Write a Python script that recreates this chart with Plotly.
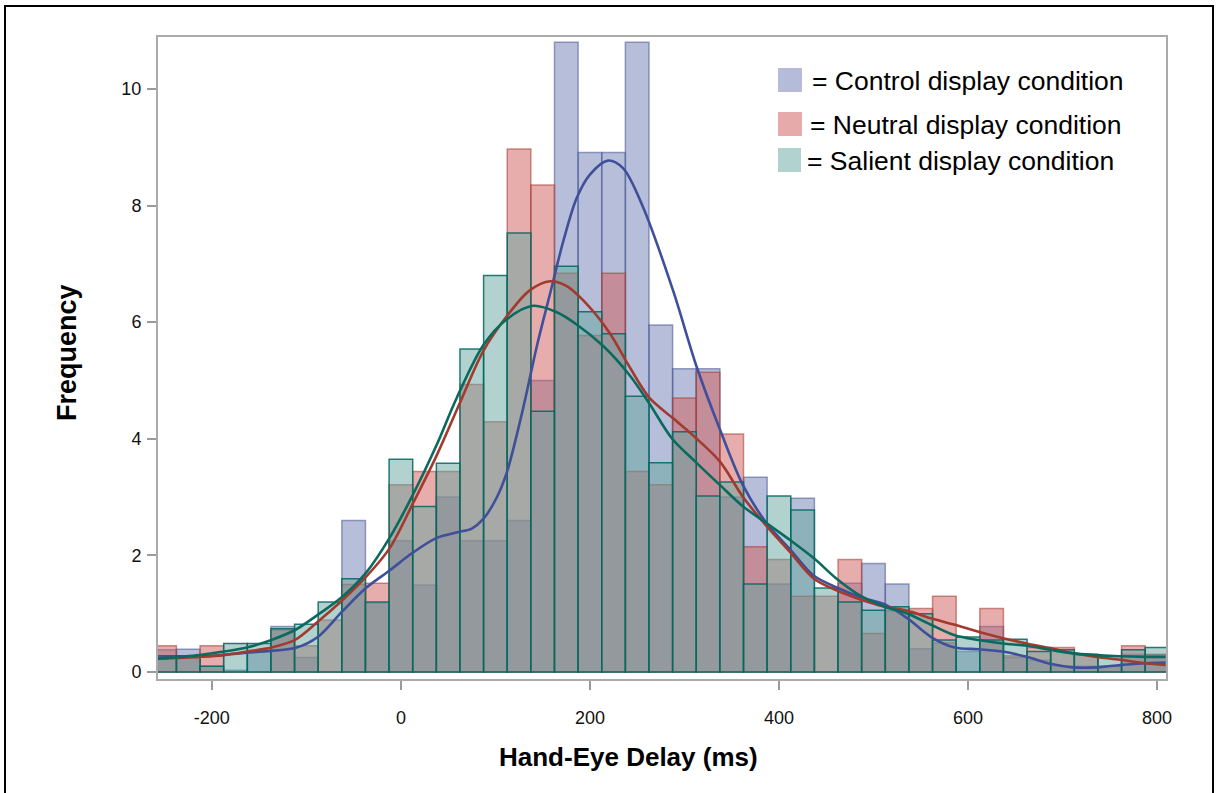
import plotly.graph_objects as go

# ---------------- data ----------------
bin_centers = [-250, -225, -200, -175, -150, -125, -100, -75, -50, -25,
               0, 25, 50, 75, 100, 125, 150, 175, 200, 225,
               250, 275, 300, 325, 350, 375, 400, 425, 450, 475,
               500, 525, 550, 575, 600, 625, 650, 675, 700, 725,
               750, 775, 800]

control_freq = [0.38, 0.39, 0.10, 0.03, 0.35, 0.78, 0.25, 0.0, 2.6, 1.18,
                2.25, 1.49, 3.0, 2.25, 2.25, 2.6, 5.0, 10.8, 8.91, 8.91,
                10.8, 5.95, 5.2, 5.2, 3.0, 3.34, 1.51, 2.98, 0.0, 1.52,
                1.86, 1.51, 0.4, 0.5, 0.35, 0.78, 0.25, 0.2, 0.1, 0.1,
                0.1, 0.3, 0.3]

neutral_freq = [0.45, 0.28, 0.45, 0.0, 0.0, 0.72, 0.45, 0.89, 1.5, 1.52,
                3.21, 3.44, 3.44, 4.93, 4.29, 8.97, 8.35, 6.84, 5.77, 6.84,
                3.44, 3.21, 4.7, 5.14, 4.08, 2.15, 1.93, 1.3, 1.3, 1.93,
                0.66, 1.05, 1.09, 1.3, 0.0, 1.09, 0.28, 0.42, 0.42, 0.3,
                0.1, 0.45, 0.3]

salient_freq = [0.28, 0.28, 0.10, 0.49, 0.49, 0.74, 0.82, 1.2, 1.6, 1.2,
                3.65, 2.84, 3.58, 5.54, 6.8, 7.53, 4.47, 6.96, 6.18, 5.8,
                4.73, 3.59, 4.12, 3.02, 3.26, 1.51, 3.02, 2.78, 1.44, 1.2,
                1.06, 1.12, 1.0, 0.55, 0.6, 0.55, 0.56, 0.35, 0.38, 0.3,
                0.27, 0.38, 0.42]

control_kde_x = [-257, -200, -150, -112, -88, -62, -37, -12, 12, 38, 61, 75, 87, 101, 112,
                 129, 144, 158, 172, 186, 200, 219, 235, 256, 288, 313, 338, 362, 387,
                 412, 437, 461, 487, 512, 536, 561, 586, 611, 637, 662, 687, 711, 736,
                 761, 788, 809]
control_kde_y = [0.25, 0.28, 0.35, 0.41, 0.6, 1.04, 1.44, 1.74, 2.04, 2.3, 2.4, 2.46, 2.62, 2.98, 3.42,
                 4.5, 5.6, 6.5, 7.4, 8.13, 8.53, 8.77, 8.64, 7.98, 6.54, 5.23, 4.14, 3.2, 2.55,
                 2.1, 1.65, 1.45, 1.28, 1.16, 0.92, 0.6, 0.42, 0.39, 0.35, 0.26, 0.14, 0.08, 0.08,
                 0.12, 0.15, 0.16]

neutral_kde_x = [-257, -213, -187, -163, -137, -112, -88, -62, -37, -12, 13, 38, 62, 87, 112,
                 136, 158, 175, 200, 221, 242, 263, 288, 313, 338, 362, 387, 412, 437,
                 461, 487, 512, 536, 561, 586, 611, 637, 662, 687, 711, 736, 761, 788, 809]
neutral_kde_y = [0.23, 0.26, 0.29, 0.35, 0.42, 0.55, 0.86, 1.23, 1.63, 2.12, 2.9, 3.72, 4.6, 5.5, 6.1,
                 6.54, 6.7, 6.62, 6.25, 5.81, 5.23, 4.7, 4.35, 4.0, 3.6, 3.0, 2.5, 2.05, 1.6,
                 1.4, 1.24, 1.12, 1.05, 0.92, 0.81, 0.69, 0.58, 0.49, 0.41, 0.32, 0.26, 0.21, 0.15, 0.12]

salient_kde_x = [-257, -213, -187, -163, -137, -112, -88, -62, -37, -12, 13, 38, 59, 87, 112,
                 140, 165, 186, 214, 242, 263, 287, 312, 338, 362, 387, 412, 437, 461,
                 487, 512, 536, 561, 586, 611, 637, 662, 687, 711, 736, 761, 788, 809]
salient_kde_y = [0.23, 0.29, 0.35, 0.42, 0.55, 0.72, 0.98, 1.29, 1.7, 2.3, 3.05, 3.9, 4.7, 5.6, 6.05,
                 6.28, 6.17, 5.96, 5.59, 5.09, 4.6, 4.0, 3.6, 3.2, 2.84, 2.55, 2.26, 1.95, 1.6,
                 1.3, 1.12, 1.0, 0.81, 0.63, 0.55, 0.49, 0.45, 0.38, 0.32, 0.29, 0.27, 0.26, 0.26]

x_tick_vals = [-200, 0, 200, 400, 600, 800]
x_tick_text = ["-200", "0", "200", "400", "600", "800"]
y_tick_vals = [0, 2, 4, 6, 8, 10]
y_tick_text = ["0", "2", "4", "6", "8", "10"]

legend_labels = ["= Control display condition",
                 "= Neutral display condition",
                 "= Salient display condition"]
x_title = "Hand-Eye Delay (ms)"
y_title = "Frequency"

# ---------------- styles ----------------
FONT = "Liberation Sans, Arial, sans-serif"
fills = ["rgba(111,126,179,0.5)", "rgba(208,91,91,0.5)", "rgba(102,165,160,0.5)"]
edges = ["rgba(68,86,148,0.55)", "rgba(162,58,46,0.55)", "rgba(1,102,94,0.85)"]
lines = ["#3f4f9a", "#a23a2e", "#0b6a5e"]
swatches = ["#b5bcd9", "#e7aaaa", "#b1d2ce"]

W, H = 1218, 793
ML, MR, MT, MB = 158, 52, 37, 114
PW, PH = W - ML - MR, H - MT - MB


def px(xpix):
    return (xpix - ML) / PW


def py(ypix):
    return (H - MB - ypix) / PH


fig = go.Figure()

for freq, fc, ec in zip([control_freq, neutral_freq, salient_freq], fills, edges):
    fig.add_trace(go.Bar(x=bin_centers, y=freq, width=25,
                         marker=dict(color=fc, line=dict(color=ec, width=1.5)),
                         showlegend=False, hoverinfo="skip"))

for kx, ky, lc in zip([control_kde_x, neutral_kde_x, salient_kde_x],
                      [control_kde_y, neutral_kde_y, salient_kde_y], lines):
    fig.add_trace(go.Scatter(x=kx, y=ky, mode="lines",
                             line=dict(color=lc, width=2.6, shape="spline", smoothing=0.9),
                             showlegend=False, hoverinfo="skip"))

axis_common = dict(showgrid=False, zeroline=False, showline=True, mirror=True,
                   linecolor="#ababab", linewidth=2, ticks="outside", ticklen=9,
                   tickcolor="#9a9a9a", tickwidth=1.5,
                   tickfont=dict(family=FONT, size=18, color="#111111"))

fig.update_layout(
    width=W, height=H,
    margin=dict(l=ML, r=MR, t=MT, b=MB),
    barmode="overlay",
    plot_bgcolor="white", paper_bgcolor="white",
    xaxis=dict(range=[-257, 809.5], tickvals=x_tick_vals, ticktext=x_tick_text,
               ticklabelstandoff=12, **axis_common),
    yaxis=dict(range=[-0.12, 10.89], tickvals=y_tick_vals, ticktext=y_tick_text,
               ticklabelstandoff=2, **axis_common),
)

annotations = [
    dict(x=px(628), y=py(757), xref="paper", yref="paper", text="<b>" + x_title + "</b>",
         showarrow=False, font=dict(family=FONT, size=26, color="black"),
         xanchor="center", yanchor="middle"),
    dict(x=px(67), y=py(353), xref="paper", yref="paper", text="<b>" + y_title + "</b>",
         showarrow=False, textangle=-90, font=dict(family=FONT, size=27, color="black"),
         xanchor="center", yanchor="middle"),
]

shapes = [
    dict(type="rect", xref="paper", yref="paper", x0=px(5), x1=px(1213), y0=py(6), y1=py(820),
         line=dict(color="black", width=2), fillcolor="rgba(0,0,0,0)", layer="above"),
]

legend_rows = [(80, 778, 802, 810), (124, 778, 802, 808), (160, 778, 801, 805)]
for (cy, sx0, sx1, tx), label, sc in zip(legend_rows, legend_labels, swatches):
    shapes.append(dict(type="rect", xref="paper", yref="paper",
                       x0=px(sx0), x1=px(sx1), y0=py(cy + 12), y1=py(cy - 12),
                       fillcolor=sc, line=dict(width=0), layer="above"))
    annotations.append(dict(x=px(tx), y=py(cy + 1), xref="paper", yref="paper", text=label,
                            showarrow=False, font=dict(family=FONT, size=26.5, color="black"),
                            xanchor="left", yanchor="middle"))

fig.update_layout(annotations=annotations, shapes=shapes)

fig.write_html("out.html")
